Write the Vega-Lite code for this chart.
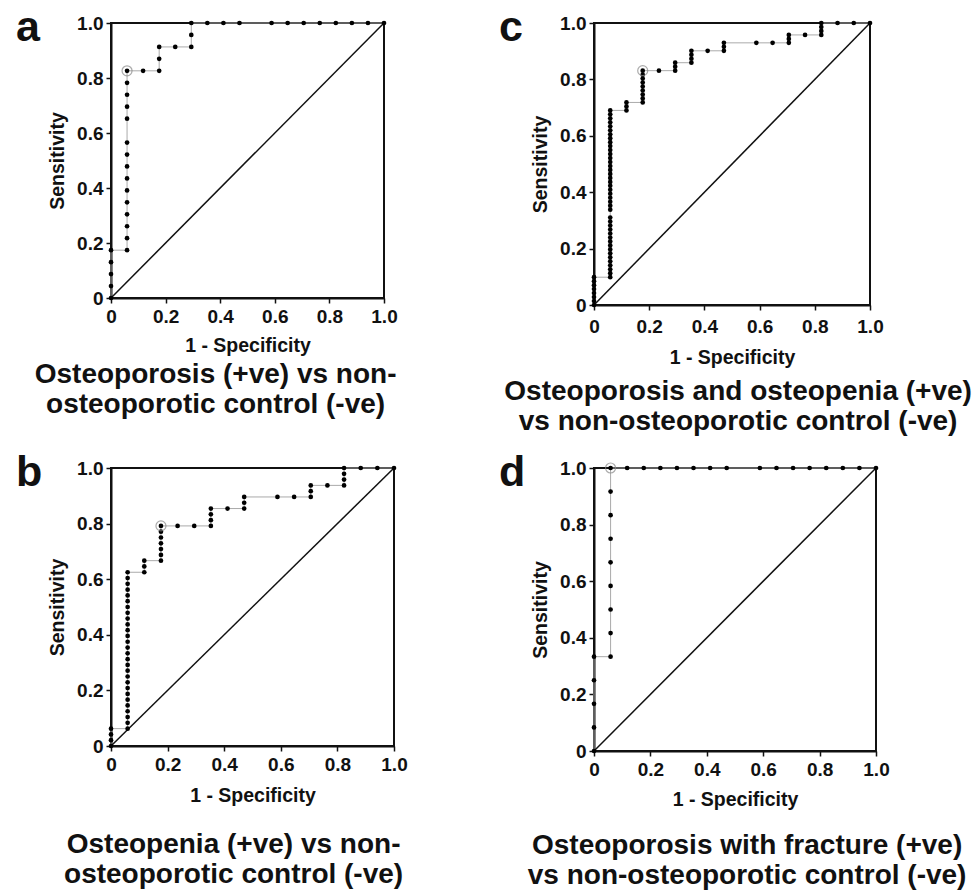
{
  "$schema": "https://vega.github.io/schema/vega-lite/v6.json",
  "padding": {"left": 15, "top": 6, "right": 0, "bottom": 0},
  "background": "white",
  "datasets": {
    "diag": [{"x": 0, "y": 0}, {"x": 1, "y": 1}],
    "a": [
      {"x":0,"y":0},{"x":0,"y":0.0435},{"x":0,"y":0.087},{"x":0,"y":0.1304},{"x":0,"y":0.1739},
      {"x":0.0588,"y":0.1739},{"x":0.0588,"y":0.2174},{"x":0.0588,"y":0.2609},{"x":0.0588,"y":0.3043},{"x":0.0588,"y":0.3478},{"x":0.0588,"y":0.3913},{"x":0.0588,"y":0.4348},{"x":0.0588,"y":0.4783},{"x":0.0588,"y":0.5217},{"x":0.0588,"y":0.5652},{"x":0.0588,"y":0.6522},{"x":0.0588,"y":0.6957},{"x":0.0588,"y":0.7391},{"x":0.0588,"y":0.7826},{"x":0.0588,"y":0.8261,"o":1},
      {"x":0.1176,"y":0.8261},{"x":0.1765,"y":0.8261},{"x":0.1765,"y":0.8696},{"x":0.1765,"y":0.913},{"x":0.2353,"y":0.913},{"x":0.2941,"y":0.913},{"x":0.2941,"y":0.9565},{"x":0.2941,"y":1},{"x":0.3529,"y":1},{"x":0.4118,"y":1},{"x":0.4706,"y":1},{"x":0.5882,"y":1},{"x":0.6471,"y":1},{"x":0.7059,"y":1},{"x":0.7647,"y":1},{"x":0.8235,"y":1},{"x":0.8824,"y":1},{"x":0.9412,"y":1},{"x":1,"y":1}
    ],
    "b": [
      {"x":0,"y":0},{"x":0,"y":0.0208},{"x":0,"y":0.0417},{"x":0,"y":0.0625},
      {"x":0.0588,"y":0.0625},{"x":0.0588,"y":0.0833},{"x":0.0588,"y":0.1042},{"x":0.0588,"y":0.125},{"x":0.0588,"y":0.1458},{"x":0.0588,"y":0.1667},{"x":0.0588,"y":0.1875},{"x":0.0588,"y":0.2083},{"x":0.0588,"y":0.2292},{"x":0.0588,"y":0.25},{"x":0.0588,"y":0.2708},{"x":0.0588,"y":0.2917},{"x":0.0588,"y":0.3125},{"x":0.0588,"y":0.3333},{"x":0.0588,"y":0.3542},{"x":0.0588,"y":0.375},{"x":0.0588,"y":0.3958},{"x":0.0588,"y":0.4167},{"x":0.0588,"y":0.4375},{"x":0.0588,"y":0.4583},{"x":0.0588,"y":0.4792},{"x":0.0588,"y":0.5},{"x":0.0588,"y":0.5208},{"x":0.0588,"y":0.5417},{"x":0.0588,"y":0.5625},{"x":0.0588,"y":0.5833},{"x":0.0588,"y":0.6042},{"x":0.0588,"y":0.625},
      {"x":0.1176,"y":0.625},{"x":0.1176,"y":0.6458},{"x":0.1176,"y":0.6667},
      {"x":0.1765,"y":0.6667},{"x":0.1765,"y":0.6875},{"x":0.1765,"y":0.7083},{"x":0.1765,"y":0.7292},{"x":0.1765,"y":0.75},{"x":0.1765,"y":0.7708},{"x":0.1765,"y":0.7917,"o":1},
      {"x":0.2353,"y":0.7917},{"x":0.2941,"y":0.7917},
      {"x":0.3529,"y":0.7917},{"x":0.3529,"y":0.8125},{"x":0.3529,"y":0.8333},{"x":0.3529,"y":0.8542},
      {"x":0.4118,"y":0.8542},
      {"x":0.4706,"y":0.8542},{"x":0.4706,"y":0.875},{"x":0.4706,"y":0.8958},
      {"x":0.5882,"y":0.8958},{"x":0.6471,"y":0.8958},
      {"x":0.7059,"y":0.8958},{"x":0.7059,"y":0.9167},{"x":0.7059,"y":0.9375},
      {"x":0.7647,"y":0.9375},
      {"x":0.8235,"y":0.9375},{"x":0.8235,"y":0.9583},{"x":0.8235,"y":0.9792},{"x":0.8235,"y":1},
      {"x":0.8824,"y":1},{"x":0.9412,"y":1},{"x":1,"y":1}
    ],
    "c": [
      {"x":0,"y":0},{"x":0,"y":0.0141},{"x":0,"y":0.0282},{"x":0,"y":0.0423},{"x":0,"y":0.0563},{"x":0,"y":0.0704},{"x":0,"y":0.0845},{"x":0,"y":0.0986},
      {"x":0.0588,"y":0.0986},{"x":0.0588,"y":0.1127},{"x":0.0588,"y":0.1268},{"x":0.0588,"y":0.1408},{"x":0.0588,"y":0.1549},{"x":0.0588,"y":0.169},{"x":0.0588,"y":0.1831},{"x":0.0588,"y":0.1972},{"x":0.0588,"y":0.2113},{"x":0.0588,"y":0.2254},{"x":0.0588,"y":0.2394},{"x":0.0588,"y":0.2535},{"x":0.0588,"y":0.2676},{"x":0.0588,"y":0.2817},{"x":0.0588,"y":0.2958},{"x":0.0588,"y":0.3099},{"x":0.0588,"y":0.338},{"x":0.0588,"y":0.3521},{"x":0.0588,"y":0.3662},{"x":0.0588,"y":0.3803},{"x":0.0588,"y":0.3944},{"x":0.0588,"y":0.4085},{"x":0.0588,"y":0.4225},{"x":0.0588,"y":0.4366},{"x":0.0588,"y":0.4507},{"x":0.0588,"y":0.4648},{"x":0.0588,"y":0.4789},{"x":0.0588,"y":0.493},{"x":0.0588,"y":0.507},{"x":0.0588,"y":0.5211},{"x":0.0588,"y":0.5352},{"x":0.0588,"y":0.5493},{"x":0.0588,"y":0.5634},{"x":0.0588,"y":0.5775},{"x":0.0588,"y":0.5915},{"x":0.0588,"y":0.6056},{"x":0.0588,"y":0.6197},{"x":0.0588,"y":0.6338},{"x":0.0588,"y":0.6479},{"x":0.0588,"y":0.662},{"x":0.0588,"y":0.6761},{"x":0.0588,"y":0.6901},
      {"x":0.1176,"y":0.6901},{"x":0.1176,"y":0.7042},{"x":0.1176,"y":0.7183},
      {"x":0.1765,"y":0.7183},{"x":0.1765,"y":0.7324},{"x":0.1765,"y":0.7465},{"x":0.1765,"y":0.7606},{"x":0.1765,"y":0.7746},{"x":0.1765,"y":0.7887},{"x":0.1765,"y":0.8028},{"x":0.1765,"y":0.8169},{"x":0.1765,"y":0.831,"o":1},
      {"x":0.2353,"y":0.831},
      {"x":0.2941,"y":0.831},{"x":0.2941,"y":0.8451},{"x":0.2941,"y":0.8592},
      {"x":0.3529,"y":0.8592},{"x":0.3529,"y":0.8732},{"x":0.3529,"y":0.8873},{"x":0.3529,"y":0.9014},
      {"x":0.4118,"y":0.9014},
      {"x":0.4706,"y":0.9014},{"x":0.4706,"y":0.9155},{"x":0.4706,"y":0.9296},
      {"x":0.5882,"y":0.9296},{"x":0.6471,"y":0.9296},
      {"x":0.7059,"y":0.9296},{"x":0.7059,"y":0.9437},{"x":0.7059,"y":0.9577},
      {"x":0.7647,"y":0.9577},
      {"x":0.8235,"y":0.9577},{"x":0.8235,"y":0.9718},{"x":0.8235,"y":0.9859},{"x":0.8235,"y":1},
      {"x":0.8824,"y":1},{"x":0.9412,"y":1},{"x":1,"y":1}
    ],
    "d": [
      {"x":0,"y":0},{"x":0,"y":0.0833},{"x":0,"y":0.1667},{"x":0,"y":0.25},{"x":0,"y":0.3333},
      {"x":0.0588,"y":0.3333},{"x":0.0588,"y":0.4167},{"x":0.0588,"y":0.5},{"x":0.0588,"y":0.5833},{"x":0.0588,"y":0.6667},{"x":0.0588,"y":0.75},{"x":0.0588,"y":0.8333},{"x":0.0588,"y":0.9167},{"x":0.0588,"y":1,"o":1},
      {"x":0.1176,"y":1},{"x":0.1765,"y":1},{"x":0.2353,"y":1},{"x":0.2941,"y":1},{"x":0.3529,"y":1},{"x":0.4118,"y":1},{"x":0.4706,"y":1},
      {"x":0.5882,"y":1},{"x":0.6471,"y":1},{"x":0.7059,"y":1},{"x":0.7647,"y":1},{"x":0.8235,"y":1},{"x":0.8824,"y":1},{"x":0.9412,"y":1},{"x":1,"y":1}
    ]
  },
  "config": {
    "font": "Liberation Sans",
    "view": {"stroke": "#111", "strokeWidth": 2},
    "axis": {
      "grid": false, "domainColor": "#111", "domainWidth": 2,
      "tickColor": "#111", "tickWidth": 1.5, "tickSize": 5,
      "labelFont": "Liberation Sans", "labelFontSize": 19, "labelFontWeight": "bold", "labelColor": "#111",
      "labelFlush": false, "labelOverlap": false, "labelPadding": 3,
      "titleFont": "Liberation Sans", "titleFontSize": 19.5, "titleFontWeight": "bold", "titleColor": "#111",
      "titlePadding": 9
    },
    "title": {"font": "Liberation Sans", "color": "#111"}
  },
  "spacing": 15,
  "vconcat": [
    {
      "spacing": 99,
      "hconcat": [
        {
          "title": {"text": ["Osteoporosis (+ve) vs non-", "osteoporotic control (-ve)"], "orient": "bottom", "anchor": "middle", "frame": "bounds", "fontSize": 28, "fontWeight": "bold", "lineHeight": 30, "offset": 5, "dx": 9},
          "vconcat": [
            {
              "width": 273, "height": 275,
              "title": {"text": "a", "orient": "top", "anchor": "start", "frame": "group", "fontSize": 43, "fontWeight": "bold", "baseline": "alphabetic", "offset": -26, "dy": 44, "dx": -95},
              "encoding": {
                "x": {"field": "x", "type": "quantitative", "scale": {"domain": [0, 1], "nice": false}, "axis": {"values": [0, 0.2, 0.4, 0.6, 0.8, 1], "labelExpr": "datum.value === 0 ? '0' : format(datum.value, '.1f')", "title": "1 - Specificity", "labelPadding": 4, "titlePadding": 10}},
                "y": {"field": "y", "type": "quantitative", "scale": {"domain": [0, 1], "nice": false}, "axis": {"values": [0, 0.2, 0.4, 0.6, 0.8, 1], "labelExpr": "datum.value === 0 ? '0' : format(datum.value, '.1f')", "title": "Sensitivity"}}
              },
              "layer": [
                {"data": {"name": "diag"}, "mark": {"type": "line", "color": "#111", "strokeWidth": 1.5}, "encoding": {}},
                {"data": {"name": "a"}, "mark": {"type": "line", "color": "#aaa", "strokeWidth": 1}, "encoding": {"order": [{"field": "x"}, {"field": "y"}]}},
                {"data": {"name": "a"}, "mark": {"type": "circle", "color": "#000", "opacity": 1, "size": 22}},
                {"data": {"name": "a"}, "transform": [{"filter": "datum.o === 1"}], "mark": {"type": "point", "shape": "circle", "filled": false, "color": "#888", "strokeWidth": 1.2, "size": 100}}
              ]
            }
          ]
        },
        {
          "title": {"text": ["Osteoporosis and osteopenia (+ve)", "vs non-osteoporotic control (-ve)"], "orient": "bottom", "anchor": "middle", "frame": "bounds", "fontSize": 28, "fontWeight": "bold", "lineHeight": 30, "offset": 10, "dx": 47},
          "vconcat": [
            {
              "width": 276, "height": 282,
              "title": {"text": "c", "orient": "top", "anchor": "start", "frame": "group", "fontSize": 43, "fontWeight": "bold", "baseline": "alphabetic", "offset": -26, "dy": 44, "dx": -95},
              "encoding": {
                "x": {"field": "x", "type": "quantitative", "scale": {"domain": [0, 1], "nice": false}, "axis": {"values": [0, 0.2, 0.4, 0.6, 0.8, 1], "labelExpr": "datum.value === 0 ? '0' : format(datum.value, '.1f')", "title": "1 - Specificity", "labelPadding": 7, "titlePadding": 12}},
                "y": {"field": "y", "type": "quantitative", "scale": {"domain": [0, 1], "nice": false}, "axis": {"values": [0, 0.2, 0.4, 0.6, 0.8, 1], "labelExpr": "datum.value === 0 ? '0' : format(datum.value, '.1f')", "title": "Sensitivity"}}
              },
              "layer": [
                {"data": {"name": "diag"}, "mark": {"type": "line", "color": "#111", "strokeWidth": 1.5}, "encoding": {}},
                {"data": {"name": "c"}, "mark": {"type": "line", "color": "#aaa", "strokeWidth": 1}, "encoding": {"order": [{"field": "x"}, {"field": "y"}]}},
                {"data": {"name": "c"}, "mark": {"type": "circle", "color": "#000", "opacity": 1, "size": 22}},
                {"data": {"name": "c"}, "transform": [{"filter": "datum.o === 1"}], "mark": {"type": "point", "shape": "circle", "filled": false, "color": "#888", "strokeWidth": 1.2, "size": 100}}
              ]
            }
          ]
        }
      ]
    },
    {
      "spacing": 89,
      "hconcat": [
        {
          "title": {"text": ["Osteopenia (+ve) vs non-", "osteoporotic control (-ve)"], "orient": "bottom", "anchor": "middle", "frame": "bounds", "fontSize": 28, "fontWeight": "bold", "lineHeight": 30, "offset": 25, "dx": 22},
          "vconcat": [
            {
              "width": 283, "height": 278,
              "title": {"text": "b", "orient": "top", "anchor": "start", "frame": "group", "fontSize": 43, "fontWeight": "bold", "baseline": "alphabetic", "offset": -26, "dy": 44, "dx": -95},
              "encoding": {
                "x": {"field": "x", "type": "quantitative", "scale": {"domain": [0, 1], "nice": false}, "axis": {"values": [0, 0.2, 0.4, 0.6, 0.8, 1], "labelExpr": "datum.value === 0 ? '0' : format(datum.value, '.1f')", "title": "1 - Specificity", "labelPadding": 4, "titlePadding": 12}},
                "y": {"field": "y", "type": "quantitative", "scale": {"domain": [0, 1], "nice": false}, "axis": {"values": [0, 0.2, 0.4, 0.6, 0.8, 1], "labelExpr": "datum.value === 0 ? '0' : format(datum.value, '.1f')", "title": "Sensitivity"}}
              },
              "layer": [
                {"data": {"name": "diag"}, "mark": {"type": "line", "color": "#111", "strokeWidth": 1.5}, "encoding": {}},
                {"data": {"name": "b"}, "mark": {"type": "line", "color": "#aaa", "strokeWidth": 1}, "encoding": {"order": [{"field": "x"}, {"field": "y"}]}},
                {"data": {"name": "b"}, "mark": {"type": "circle", "color": "#000", "opacity": 1, "size": 22}},
                {"data": {"name": "b"}, "transform": [{"filter": "datum.o === 1"}], "mark": {"type": "point", "shape": "circle", "filled": false, "color": "#888", "strokeWidth": 1.2, "size": 100}}
              ]
            }
          ]
        },
        {
          "title": {"text": ["Osteoporosis with fracture (+ve)", "vs non-osteoporotic control (-ve)"], "orient": "bottom", "anchor": "middle", "frame": "bounds", "fontSize": 28, "fontWeight": "bold", "lineHeight": 30, "offset": 22, "dx": 53},
          "vconcat": [
            {
              "width": 282, "height": 283,
              "title": {"text": "d", "orient": "top", "anchor": "start", "frame": "group", "fontSize": 43, "fontWeight": "bold", "baseline": "alphabetic", "offset": -26, "dy": 44, "dx": -95},
              "encoding": {
                "x": {"field": "x", "type": "quantitative", "scale": {"domain": [0, 1], "nice": false}, "axis": {"values": [0, 0.2, 0.4, 0.6, 0.8, 1], "labelExpr": "datum.value === 0 ? '0' : format(datum.value, '.1f')", "title": "1 - Specificity", "labelPadding": 4, "titlePadding": 11}},
                "y": {"field": "y", "type": "quantitative", "scale": {"domain": [0, 1], "nice": false}, "axis": {"values": [0, 0.2, 0.4, 0.6, 0.8, 1], "labelExpr": "datum.value === 0 ? '0' : format(datum.value, '.1f')", "title": "Sensitivity"}}
              },
              "layer": [
                {"data": {"name": "diag"}, "mark": {"type": "line", "color": "#111", "strokeWidth": 1.5}, "encoding": {}},
                {"data": {"name": "d"}, "mark": {"type": "line", "color": "#aaa", "strokeWidth": 1}, "encoding": {"order": [{"field": "x"}, {"field": "y"}]}},
                {"data": {"name": "d"}, "mark": {"type": "circle", "color": "#000", "opacity": 1, "size": 22}},
                {"data": {"name": "d"}, "transform": [{"filter": "datum.o === 1"}], "mark": {"type": "point", "shape": "circle", "filled": false, "color": "#888", "strokeWidth": 1.2, "size": 100}}
              ]
            }
          ]
        }
      ]
    }
  ]
}
